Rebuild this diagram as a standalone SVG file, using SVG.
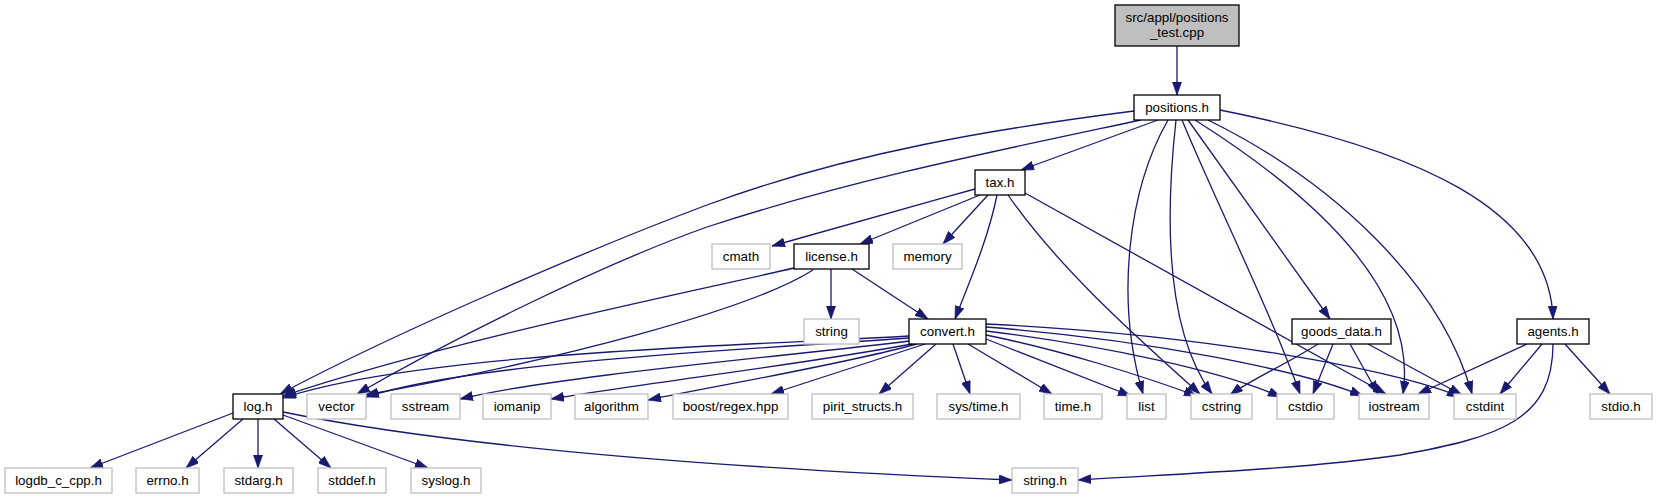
<svg xmlns="http://www.w3.org/2000/svg" width="1657" height="500" viewBox="0 0 1657 500">
<style>
.bg{fill:#ffffff}
.doc{fill:#ffffff;stroke:#000000;stroke-width:1.3}
.ext{fill:#ffffff;stroke:#bfbfbf;stroke-width:1.3}
.root{fill:#bfbfbf;stroke:#000000;stroke-width:1.3}
text{font-family:"Liberation Sans",Arial,Helvetica,sans-serif;font-size:13.33px;fill:#000000;text-anchor:middle}
#edges path{fill:none;stroke:#191970;stroke-width:1.3;marker-end:url(#ah)}
</style>
<defs>
<marker id="ah" viewBox="0 0 10 7" refX="10" refY="3.5" markerWidth="13" markerHeight="9.3" markerUnits="userSpaceOnUse" orient="auto">
<path d="M0,0 L10,3.5 L0,7 z" fill="#191970" stroke="#191970" stroke-width="0.5"/>
</marker>
</defs>
<rect class="bg" x="0" y="0" width="1657" height="500"/>
<g id="edges">
<path d="M1177,46 L1177,95"/>
<path d="M1134,111 C1000,128 850,152 707,205 C600,245 400,330 280,394"/>
<path d="M1141,120 C1000,150 850,180 707,227 C600,265 450,340 357,394"/>
<path d="M1158,120 L1021,170"/>
<path d="M1168,120 C1128,190 1115,300 1143,394"/>
<path d="M1176,120 C1165,220 1165,330 1212,394"/>
<path d="M1182,120 C1215,200 1270,310 1300,394"/>
<path d="M1188,120 L1330,319"/>
<path d="M1195,120 C1290,180 1420,280 1403,394"/>
<path d="M1208,120 C1330,180 1440,280 1472,394"/>
<path d="M1220,110 C1420,150 1550,210 1553,319"/>
<path d="M975,189 C900,210 820,232 772,246"/>
<path d="M980,195 L860,244"/>
<path d="M988,195 L943,244"/>
<path d="M997,195 C988,240 968,285 955,319"/>
<path d="M1008,195 C1060,270 1140,340 1200,394"/>
<path d="M1025,193 L1386,394"/>
<path d="M794,268 C700,290 450,340 283,396"/>
<path d="M813,270 C750,310 560,360 365,395"/>
<path d="M831,269 L831,319"/>
<path d="M852,269 L928,319"/>
<path d="M909,336 C760,345 420,352 283,398"/>
<path d="M909,338 C780,348 480,360 366,397"/>
<path d="M909,341 C800,355 560,375 460,399"/>
<path d="M912,344 C800,365 650,382 551,399"/>
<path d="M917,344 C840,365 720,385 648,400"/>
<path d="M925,344 L771,394"/>
<path d="M936,344 L879,394"/>
<path d="M953,344 L970,394"/>
<path d="M968,344 L1052,394"/>
<path d="M986,339 L1131,396"/>
<path d="M986,335 C1060,350 1140,375 1197,396"/>
<path d="M986,331 C1100,345 1220,370 1281,397"/>
<path d="M986,327 C1150,340 1300,370 1363,396"/>
<path d="M986,324 C1200,334 1400,370 1460,397"/>
<path d="M1318,344 C1285,365 1250,380 1230,395"/>
<path d="M1333,344 L1313,394"/>
<path d="M1350,344 L1378,394"/>
<path d="M1368,344 L1462,395"/>
<path d="M1527,344 L1418,394"/>
<path d="M1542,344 L1500,394"/>
<path d="M1565,344 L1610,394"/>
<path d="M1553,344 C1553,420 1500,437 1400,455 C1300,470 1150,475 1078,480"/>
<path d="M233,413 L90,468"/>
<path d="M243,419 L186,468"/>
<path d="M258,419 L258,468"/>
<path d="M274,419 L331,468"/>
<path d="M283,415 L428,468"/>
<path d="M283,412 C420,440 650,465 1012,480"/>
</g>
<g id="node-root"><rect class="root" x="1115" y="5" width="124" height="41"/><text x="1177" y="22">src/appl/positions</text><text x="1177" y="37">_test.cpp</text></g>
<g id="node-positions"><rect class="doc" x="1134" y="95" width="86" height="25"/><text x="1177" y="112">positions.h</text></g>
<g id="node-tax"><rect class="doc" x="975" y="170" width="50" height="25"/><text x="1000" y="187">tax.h</text></g>
<g id="node-cmath"><rect class="ext" x="712" y="244" width="58" height="25"/><text x="741" y="261">cmath</text></g>
<g id="node-license"><rect class="doc" x="794" y="244" width="75" height="25"/><text x="831.5" y="261">license.h</text></g>
<g id="node-memory"><rect class="ext" x="893" y="244" width="69" height="25"/><text x="927.5" y="261">memory</text></g>
<g id="node-string"><rect class="ext" x="804" y="319" width="55" height="25"/><text x="831.5" y="336">string</text></g>
<g id="node-convert"><rect class="doc" x="909" y="319" width="77" height="25"/><text x="947.5" y="336">convert.h</text></g>
<g id="node-goods"><rect class="doc" x="1292" y="319" width="99" height="25"/><text x="1341.5" y="336">goods_data.h</text></g>
<g id="node-agents"><rect class="doc" x="1517" y="319" width="72" height="25"/><text x="1553" y="336">agents.h</text></g>
<g id="node-log"><rect class="doc" x="233" y="394" width="50" height="25"/><text x="258" y="411">log.h</text></g>
<g id="node-vector"><rect class="ext" x="307" y="394" width="59" height="25"/><text x="336.5" y="411">vector</text></g>
<g id="node-sstream"><rect class="ext" x="391" y="394" width="69" height="25"/><text x="425.5" y="411">sstream</text></g>
<g id="node-iomanip"><rect class="ext" x="483" y="394" width="68" height="25"/><text x="517" y="411">iomanip</text></g>
<g id="node-algorithm"><rect class="ext" x="575" y="394" width="73" height="25"/><text x="611.5" y="411">algorithm</text></g>
<g id="node-boost"><rect class="ext" x="673" y="394" width="115" height="25"/><text x="730.5" y="411">boost/regex.hpp</text></g>
<g id="node-pirit"><rect class="ext" x="812" y="394" width="101" height="25"/><text x="862.5" y="411">pirit_structs.h</text></g>
<g id="node-systime"><rect class="ext" x="937" y="394" width="83" height="25"/><text x="978.5" y="411">sys/time.h</text></g>
<g id="node-time"><rect class="ext" x="1044" y="394" width="58" height="25"/><text x="1073" y="411">time.h</text></g>
<g id="node-list"><rect class="ext" x="1127" y="394" width="39" height="25"/><text x="1146.5" y="411">list</text></g>
<g id="node-cstring"><rect class="ext" x="1191" y="394" width="61" height="25"/><text x="1221.5" y="411">cstring</text></g>
<g id="node-cstdio"><rect class="ext" x="1277" y="394" width="57" height="25"/><text x="1305.5" y="411">cstdio</text></g>
<g id="node-iostream"><rect class="ext" x="1359" y="394" width="70" height="25"/><text x="1394" y="411">iostream</text></g>
<g id="node-cstdint"><rect class="ext" x="1454" y="394" width="62" height="25"/><text x="1485" y="411">cstdint</text></g>
<g id="node-stdio"><rect class="ext" x="1590" y="394" width="62" height="25"/><text x="1621" y="411">stdio.h</text></g>
<g id="node-logdb"><rect class="ext" x="5" y="468" width="107" height="25"/><text x="58.5" y="485">logdb_c_cpp.h</text></g>
<g id="node-errno"><rect class="ext" x="136" y="468" width="63" height="25"/><text x="167.5" y="485">errno.h</text></g>
<g id="node-stdarg"><rect class="ext" x="224" y="468" width="69" height="25"/><text x="258.5" y="485">stdarg.h</text></g>
<g id="node-stddef"><rect class="ext" x="318" y="468" width="68" height="25"/><text x="352" y="485">stddef.h</text></g>
<g id="node-syslog"><rect class="ext" x="411" y="468" width="70" height="25"/><text x="446" y="485">syslog.h</text></g>
<g id="node-stringh"><rect class="ext" x="1012" y="468" width="66" height="25"/><text x="1045" y="485">string.h</text></g>
</svg>
